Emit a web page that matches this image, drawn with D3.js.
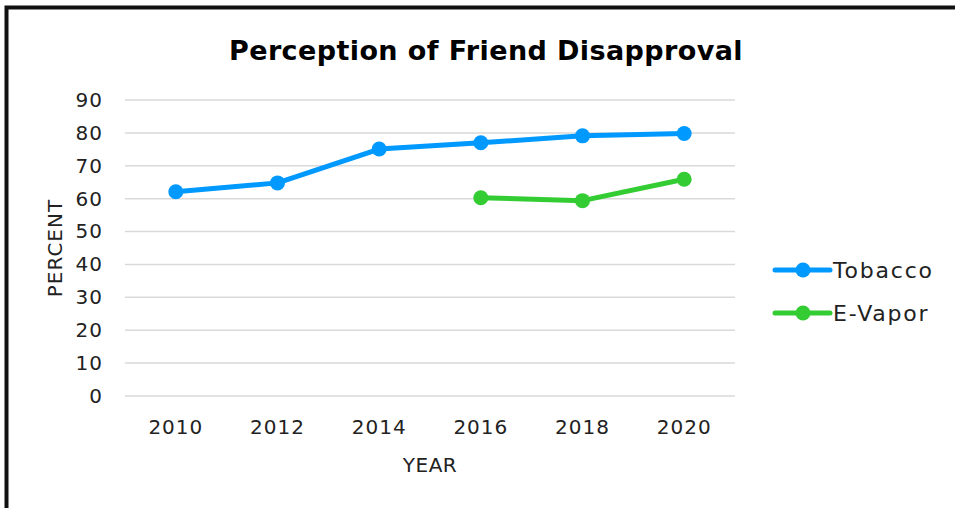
<!DOCTYPE html>
<html>
<head>
<meta charset="utf-8">
<script src="https://cdn.jsdelivr.net/npm/d3@7"></script>
<style>
  body { margin: 0; background: #fff; }
  text { font-family: "DejaVu Sans", sans-serif; }
</style>
</head>
<body>
<div id="chart"></div>
<script>
var years = ["2010", "2012", "2014", "2016", "2018", "2020"];
var tobacco = [62.1, 64.8, 75.1, 77.0, 79.1, 79.8];
var eVapor = [null, null, null, 60.3, 59.4, 65.9];
var yTicks = [0, 10, 20, 30, 40, 50, 60, 70, 80, 90];
var seriesNames = ["Tobacco", "E-Vapor"];
var seriesColors = ["#0099ff", "#33cc33"];

var W = 955, H = 508;
var margin = { top: 100, right: 220, bottom: 112, left: 125 };
var width = W - margin.left - margin.right;
var height = H - margin.top - margin.bottom;

var svg = d3.select("#chart").append("svg")
    .attr("width", W).attr("height", H);

// outer frame (only top and left visible)
svg.append("rect").attr("x", 6.5).attr("y", 7.5).attr("width", 1000).attr("height", 600)
    .attr("fill", "none").attr("stroke", "#111").attr("stroke-width", 4);

svg.append("text").attr("x", 486).attr("y", 60).attr("text-anchor", "middle")
    .style("font-size", "27px").style("font-weight", "bold").style("letter-spacing", "0.4px")
    .attr("fill", "#000")
    .text("Perception of Friend Disapproval");

var g = svg.append("g").attr("transform", "translate(" + margin.left + "," + margin.top + ")");

var x = d3.scaleBand().domain(years).range([0, width]);
var y = d3.scaleLinear().domain([0, 90]).range([height, 0]);

// gridlines
g.selectAll(".grid").data(yTicks).enter().append("line")
    .attr("x1", 0).attr("x2", width)
    .attr("y1", function (d) { return y(d); }).attr("y2", function (d) { return y(d); })
    .attr("stroke", "#d9d9d9").attr("stroke-width", 1.5);

var yAxis = g.append("g").call(d3.axisLeft(y).tickValues(yTicks).tickSize(0).tickPadding(22));
yAxis.select(".domain").remove();
yAxis.selectAll("text").style("font-size", "20px").style("letter-spacing", "1px").attr("fill", "#222");

var xAxis = g.append("g").attr("transform", "translate(0," + height + ")")
    .call(d3.axisBottom(x).tickSize(0).tickPadding(24));
xAxis.select(".domain").remove();
xAxis.selectAll("text").style("font-size", "20px").style("letter-spacing", "1px").attr("fill", "#222");

svg.append("text").attr("x", 430).attr("y", 472).attr("text-anchor", "middle")
    .style("font-size", "20px").style("letter-spacing", "0.5px").attr("fill", "#222").text("YEAR");
svg.append("text").attr("transform", "translate(62,248) rotate(-90)").attr("text-anchor", "middle")
    .style("font-size", "20px").style("letter-spacing", "1px").attr("fill", "#222").text("PERCENT");

var allSeries = [tobacco, eVapor];
var line = d3.line()
    .defined(function (d) { return d != null; })
    .x(function (d, i) { return x(years[i]) + x.bandwidth() / 2; })
    .y(function (d) { return y(d); });

allSeries.forEach(function (vals, s) {
    g.append("path").datum(vals).attr("d", line)
        .attr("fill", "none").attr("stroke", seriesColors[s]).attr("stroke-width", 5)
        .attr("stroke-linejoin", "round");
    g.selectAll(".pt" + s).data(vals.map(function (v, i) { return { v: v, i: i }; })
        .filter(function (d) { return d.v != null; }))
        .enter().append("circle")
        .attr("cx", function (d) { return x(years[d.i]) + x.bandwidth() / 2; })
        .attr("cy", function (d) { return y(d.v); })
        .attr("r", 7.5).attr("fill", seriesColors[s]);
});

// legend
var legend = svg.append("g").attr("transform", "translate(775,270)");
seriesNames.forEach(function (name, s) {
    var row = legend.append("g").attr("transform", "translate(0," + (s * 43) + ")");
    row.append("line").attr("x1", 0).attr("x2", 55).attr("y1", 0).attr("y2", 0)
        .attr("stroke", seriesColors[s]).attr("stroke-width", 5).attr("stroke-linecap", "round");
    row.append("circle").attr("cx", 28).attr("cy", 0).attr("r", 7.5).attr("fill", seriesColors[s]);
    row.append("text").attr("x", 58).attr("y", 0).attr("dy", "0.35em")
        .style("font-size", "22px").style("letter-spacing", "1.8px").attr("fill", "#222").text(name);
});
</script>
</body>
</html>
